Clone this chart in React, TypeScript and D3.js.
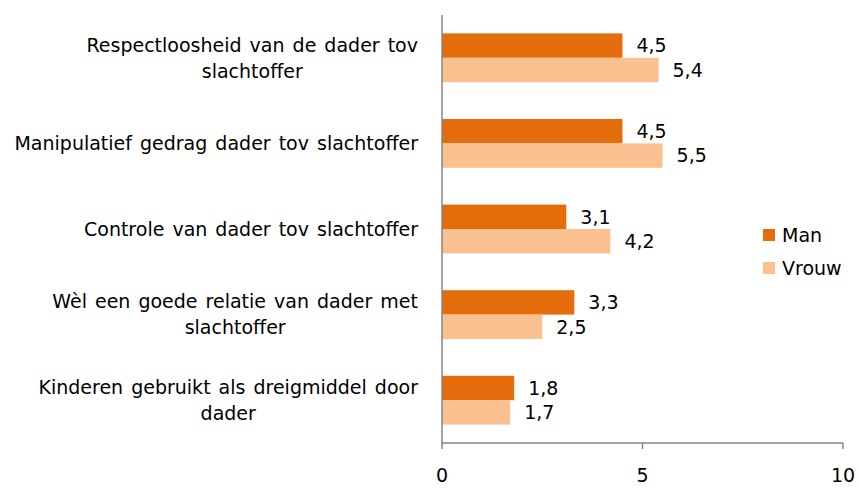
import React, { useEffect, useRef } from "react";
import * as d3 from "d3";

const categories = [
  "Respectloosheid van de dader tov|slachtoffer",
  "Manipulatief gedrag dader tov slachtoffer",
  "Controle van dader tov slachtoffer",
  "Wèl een goede relatie van dader met|slachtoffer",
  "Kinderen gebruikt als dreigmiddel door|dader",
];
const seriesNames = ["Man", "Vrouw"];
const manValues = [4.5, 4.5, 3.1, 3.3, 1.8];
const vrouwValues = [5.4, 5.5, 4.2, 2.5, 1.7];
const xTicks = [0, 5, 10];
const colors = ["#E46C0A", "#FAC090"];

const W = 858;
const H = 488;
const FONT = "DejaVu Sans";
const FS = 19;

export default function App() {
  const ref = useRef<SVGSVGElement | null>(null);
  useEffect(() => {
    const svg = d3.select(ref.current);
    svg.selectAll("*").remove();
    const x = d3.scaleLinear().domain([0, 10]).range([442, 843]);
    const y = d3
      .scaleBand<number>()
      .domain(d3.range(categories.length))
      .range([15, 443])
      .paddingInner(0.43)
      .paddingOuter(0.215);
    const sub = d3.scaleBand<number>().domain([0, 1]).range([0, y.bandwidth()]);
    const series = [manValues, vrouwValues];

    // bars
    series.forEach((vals, si) => {
      const g = svg.append("g");
      g.selectAll("rect")
        .data(vals)
        .join("rect")
        .attr("x", x(0))
        .attr("y", (_d, i) => (y(i) as number) + (sub(si) as number))
        .attr("width", (d) => x(d) - x(0))
        .attr("height", sub.bandwidth())
        .attr("fill", colors[si]);
      g.selectAll("text")
        .data(vals)
        .join("text")
        .attr("x", (d) => x(d) + 14)
        .attr("y", (_d, i) => (y(i) as number) + (sub(si) as number) + sub.bandwidth() / 2)
        .attr("dy", "0.36em")
        .attr("font-family", FONT)
        .attr("font-size", FS)
        .attr("fill", "#000")
        .text((d) => d3.format(".1f")(d).replace(".", ","));
    });

    // axes lines
    svg.append("line")
      .attr("x1", x(0)).attr("x2", x(0))
      .attr("y1", 15).attr("y2", 443)
      .attr("stroke", "#868686").attr("stroke-width", 1.5);
    svg.append("line")
      .attr("x1", x(0)).attr("x2", x(10))
      .attr("y1", 443).attr("y2", 443)
      .attr("stroke", "#868686").attr("stroke-width", 1.5);
    xTicks.forEach((t) => {
      svg.append("line")
        .attr("x1", x(t)).attr("x2", x(t))
        .attr("y1", 443).attr("y2", 449)
        .attr("stroke", "#868686").attr("stroke-width", 1.5);
      svg.append("text")
        .attr("x", x(t)).attr("y", 482)
        .attr("text-anchor", "middle")
        .attr("font-family", FONT).attr("font-size", FS)
        .text(String(t));
    });

    // category labels
    categories.forEach((c, i) => {
      const lines = c.split("|");
      const cy = (y(i) as number) + y.bandwidth() / 2;
      const g = svg.append("g");
      const texts = lines.map((ln, li) =>
        g.append("text")
          .attr("y", cy + (li - (lines.length - 1) / 2) * 26)
          .attr("dy", "0.36em")
          .attr("font-family", FONT)
          .attr("font-size", FS)
          .attr("word-spacing", 2)
          .attr("text-anchor", "middle")
          .text(ln)
      );
      const widths = texts.map((t) => (t.node() as SVGTextElement).getComputedTextLength());
      const maxW = Math.max(...widths);
      const centerX = 418 - maxW / 2;
      texts.forEach((t) => t.attr("x", centerX));
    });

    // legend
    seriesNames.forEach((n, i) => {
      const ly = 235 + i * 33;
      svg.append("rect")
        .attr("x", 763).attr("y", ly - 6)
        .attr("width", 12).attr("height", 12)
        .attr("fill", colors[i]);
      svg.append("text")
        .attr("x", 782).attr("y", ly)
        .attr("dy", "0.36em")
        .attr("font-family", FONT).attr("font-size", FS)
        .text(n);
    });
  }, []);
  return <svg ref={ref} width={W} height={H} style={{ display: "block", position: "absolute", left: 0, top: 0, background: "#fff" }} />;
}
